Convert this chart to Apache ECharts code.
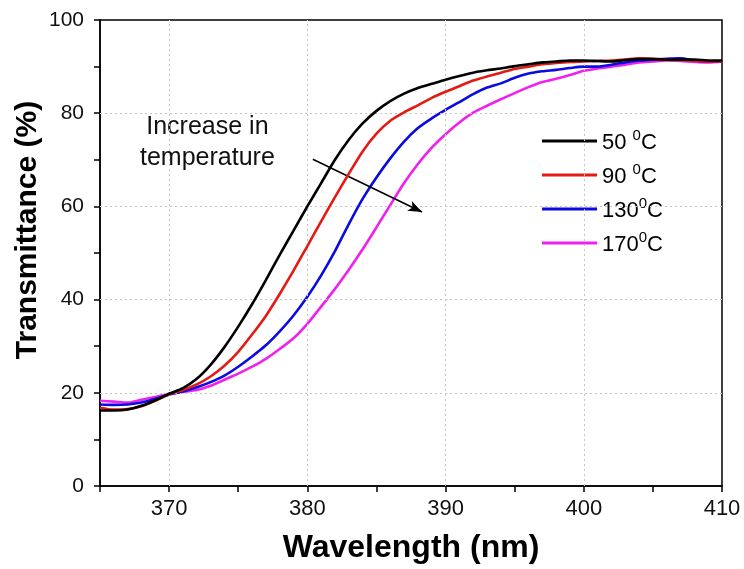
<!DOCTYPE html>
<html>
<head>
<meta charset="utf-8">
<script src="https://cdn.jsdelivr.net/npm/echarts@6/dist/echarts.min.js"></script>
<style>
  html, body { margin: 0; padding: 0; background: #fff; }
  #chart { width: 744px; height: 569px; }
</style>
</head>
<body>
<div id="chart"></div>
<script>
// ---- data ----
const wavelength = [365,366,367,368,369,370,371,372,373,374,375,376,377,378,379,380,381,382,383,384,385,386,387,388,389,390,391,392,393,394,395,396,397,398,399,400,401,402,403,404,405,406,407,408,409,410];
const t50  = [16.2,16.2,16.4,17.2,18.4,19.8,21.0,23.0,26.0,29.8,34.2,39.0,44.2,49.6,54.8,60.0,65.0,70.0,74.3,77.8,80.5,82.6,84.2,85.4,86.3,87.2,88.0,88.7,89.2,89.6,90.1,90.5,90.9,91.1,91.3,91.3,91.2,91.1,91.4,91.6,91.6,91.5,91.5,91.5,91.3,91.3];
const t90  = [16.8,16.4,16.5,17.1,18.3,19.7,20.6,21.8,23.5,25.8,28.8,32.5,36.5,41.2,46.2,51.5,56.8,62.0,67.0,71.8,75.6,78.4,80.2,81.7,83.3,84.6,85.8,87.0,87.9,88.7,89.5,90.0,90.5,90.8,91.0,91.1,91.2,91.3,91.5,91.8,91.7,91.5,91.4,91.3,91.1,91.1];
const t130 = [17.5,17.4,17.5,17.9,18.7,19.6,20.3,21.2,22.3,23.7,25.6,27.8,30.2,33.2,36.6,40.6,45.2,50.4,56.2,61.6,66.2,70.3,73.9,76.8,78.9,80.7,82.4,84.1,85.5,86.4,87.6,88.5,89.0,89.3,89.7,90.0,90.0,90.4,90.9,91.3,91.5,91.7,91.8,91.3,91.1,91.1];
const t170 = [18.3,18.1,17.9,18.5,19.1,19.8,20.2,20.6,21.5,22.8,24.1,25.6,27.3,29.4,31.7,34.8,38.5,42.3,46.4,50.8,55.5,60.3,65.0,69.1,72.6,75.5,78.0,80.1,81.6,83.0,84.3,85.6,86.7,87.4,88.2,89.1,89.6,90.0,90.4,90.9,91.1,91.3,91.2,91.0,90.9,91.1];

const seriesNames = ['50 \u00B0C', '90 \u00B0C', '130 \u00B0C', '170 \u00B0C'];
const legendNumbers = ['50 ', '90 ', '130', '170'];
const seriesColors = ['#000000', '#e31b12', '#0b0be0', '#f020ef'];

const xGridValues = [370, 380, 390, 400];
const yGridValues = [20, 40, 60, 80];

const arrowStart = [380.4, 70.1];
const arrowEnd = [388.3, 58.8];
const annotationText = 'Increase in\ntemperature';

const FONT = '"Liberation Sans", Arial, sans-serif';

function pairs(ys) {
  return wavelength.map((w, i) => [w, ys[i]]);
}
const allValues = [t50, t90, t130, t170];

const chart = echarts.init(document.getElementById('chart'), null, { renderer: 'canvas' });

const gridMarks = [];
xGridValues.forEach(v => gridMarks.push({ xAxis: v }));
yGridValues.forEach(v => gridMarks.push({ yAxis: v }));

const series = [{
  type: 'line',
  name: '__grid',
  data: [],
  silent: true,
  z: 1,
  markLine: {
    silent: true,
    symbol: ['none', 'none'],
    label: { show: false },
    lineStyle: { type: [2, 3], color: '#c4c4c4', width: 1 },
    data: gridMarks,
    animation: false
  }
}];

allValues.forEach((vals, i) => {
  series.push({
    type: 'line',
    name: seriesNames[i],
    data: pairs(vals),
    showSymbol: false,
    smooth: 0.25,
    z: 3 + (3 - i),
    lineStyle: { color: seriesColors[i], width: 2.6 },
    itemStyle: { color: seriesColors[i] }
  });
});

// arrow annotation
series.push({
  type: 'line',
  name: '__arrow',
  data: [],
  silent: true,
  z: 10,
  markLine: {
    silent: true,
    symbol: ['none', 'arrow'],
    symbolSize: [8, 14],
    label: { show: false },
    lineStyle: { type: 'solid', color: '#000', width: 1.6 },
    data: [[{ coord: arrowStart }, { coord: arrowEnd }]],
    animation: false
  }
});

const option = {
  animation: false,
  backgroundColor: '#fff',
  textStyle: { fontFamily: FONT },
  grid: {
    left: 100, right: 22, top: 20, bottom: 81,
    show: true, borderColor: '#000', borderWidth: 1.5, backgroundColor: 'transparent'
  },
  xAxis: {
    type: 'value',
    min: 365, max: 410, interval: 5,
    axisLine: { show: true, lineStyle: { color: '#000', width: 1.5 } },
    axisTick: { show: true, inside: false, length: 6, lineStyle: { color: '#000', width: 1.5 } },
    axisLabel: {
      margin: 12, fontSize: 22, color: '#111', fontFamily: FONT,
      formatter: v => (v % 10 === 0 ? String(v) : '')
    },
    splitLine: { show: false },
    name: 'Wavelength (nm)',
    nameLocation: 'middle',
    nameGap: 46,
    nameTextStyle: { fontSize: 32, fontWeight: 'bold', color: '#000', fontFamily: FONT }
  },
  yAxis: {
    type: 'value',
    min: 0, max: 100, interval: 10,
    axisLine: { show: true, lineStyle: { color: '#000', width: 1.5 } },
    axisTick: { show: true, inside: false, length: 6, lineStyle: { color: '#000', width: 1.5 } },
    axisLabel: {
      margin: 16, fontSize: 21, color: '#111', fontFamily: FONT,
      formatter: v => (v % 20 === 0 ? String(v) : '')
    },
    splitLine: { show: false }
  },
  legend: {
    show: true,
    orient: 'vertical',
    left: 537, top: 123,
    itemWidth: 55, itemHeight: 3,
    itemGap: 8,
    icon: 'rect',
    data: seriesNames,
    formatter: name => {
      const i = seriesNames.indexOf(name);
      return '{n|' + legendNumbers[i] + '}{s|0}{n|C}';
    },
    textStyle: {
      fontFamily: FONT,
      rich: {
        n: { fontSize: 22, lineHeight: 26, color: '#000', fontFamily: FONT, verticalAlign: 'bottom' },
        s: { fontSize: 15, lineHeight: 15, color: '#000', fontFamily: FONT, verticalAlign: 'top' }
      }
    }
  },
  graphic: [
    {
      type: 'text',
      left: 140, top: 112,
      style: {
        text: annotationText,
        font: '25px ' + FONT,
        fill: '#111',
        textAlign: 'center',
        lineHeight: 31
      }
    },
    {
      type: 'text',
      x: 28, y: 230,
      rotation: Math.PI / 2,
      style: {
        text: 'Transmittance (%)',
        font: 'bold 30px ' + FONT,
        fill: '#000',
        textAlign: 'center',
        textVerticalAlign: 'middle'
      }
    }
  ],
  series: series
};

chart.setOption(option);
</script>
</body>
</html>
